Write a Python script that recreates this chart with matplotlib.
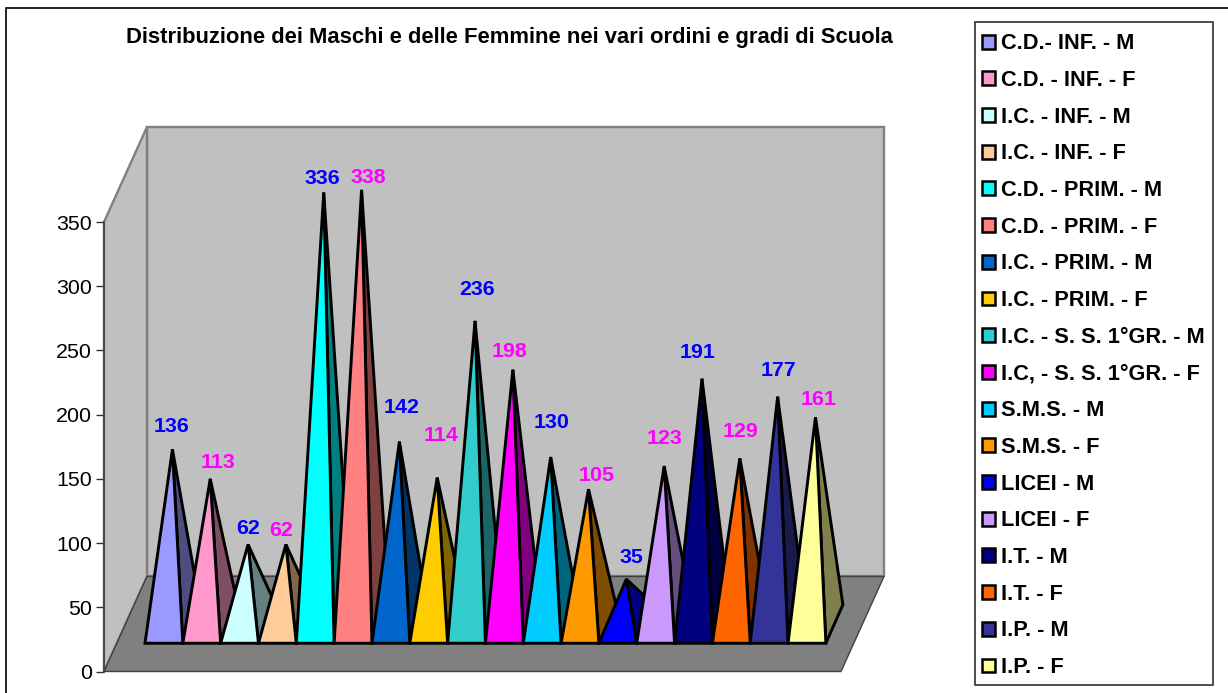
#Distribuzione Maschi / Femmine - pyramids on a fake 3D box

import matplotlib
matplotlib.use('Agg')
import matplotlib.pyplot as plt
from matplotlib.patches import Polygon, Patch, Rectangle

categories = ['C.D.- INF. - M', 'C.D. - INF. - F', 'I.C. - INF. - M', 'I.C. - INF. - F',
              'C.D. - PRIM. - M', 'C.D. - PRIM. - F', 'I.C. - PRIM. - M', 'I.C. - PRIM. - F',
              'I.C. - S. S. 1°GR. - M', 'I.C, - S. S. 1°GR. - F', 'S.M.S. - M', 'S.M.S. - F',
              'LICEI - M', 'LICEI - F', 'I.T. - M', 'I.T. - F', 'I.P. - M', 'I.P. - F']
values = [136, 113, 62, 62, 336, 338, 142, 114, 236, 198, 130, 105, 35, 123, 191, 129, 177, 161]
colors = ['#9999FF', '#FF99CC', '#CCFFFF', '#FFCC99', '#00FFFF', '#FF8080', '#0066CC', '#FFCC00',
          '#33CCCC', '#FF00FF', '#00CCFF', '#FF9900', '#0000FF', '#CC99FF', '#000080', '#FF6600',
          '#333399', '#FFFF99']
yticks = [0, 50, 100, 150, 200, 250, 300, 350]
title = 'Distribuzione dei Maschi e delle Femmine nei vari ordini e gradi di Scuola'

# label nudges from the apex, pixels
labelDx = [-1, 8, 0, -5, -1, 7, 2, 4, 2, -3, 1, 8, 5, 0, -4, 1, 1, 3]
labelDy = [23, 16, 16, 14, 14, 12, 34, 42, 31, 18, 35, 14, 22, 28, 26, 27, 26, 18]

W, H = 1228, 693
plt.rcParams['font.family'] = ['Liberation Sans', 'DejaVu Sans']

fig = plt.figure(figsize=(W / 100, H / 100), dpi=100)
fig.patch.set_facecolor('white')

left, right, bottom, top = 104, 841, 671.5, 222
ax = fig.add_axes([left / W, 1 - bottom / H, (right - left) / W, (bottom - top) / H])
ax.set_xlim(-41 / 37.83, 18.4)
ax.set_ylim(0, 350)
ax.patch.set_visible(False)

# box depth, in axis units
depthX = 43 / 37.83
depthY = 74
xa, xb = ax.get_xlim()
yTop = yticks[-1]

wall = Polygon([(xa + depthX, depthY), (xb + depthX, depthY), (xb + depthX, yTop + depthY), (xa + depthX, yTop + depthY)],
               facecolor='#C0C0C0', edgecolor='#808080', linewidth=1.7, clip_on=False, zorder=1)
side = Polygon([(xa, 0), (xa + depthX, depthY), (xa + depthX, yTop + depthY), (xa, yTop)],
               facecolor='#C0C0C0', edgecolor='#808080', linewidth=1.7, clip_on=False, zorder=1)
floor = Polygon([(xa, 0), (xb, 0), (xb + depthX, depthY), (xa + depthX, depthY)],
                facecolor='#808080', edgecolor='#404040', linewidth=1.0, clip_on=False, zorder=2)
ax.add_patch(wall)
ax.add_patch(side)
ax.add_patch(floor)


def darker(c):
    r, g, b = matplotlib.colors.to_rgb(c)
    return (r * 0.5, g * 0.5, b * 0.5)


# pyramid base: front edge sits above the box front edge, back corner goes up and to the right
baseY = 22
pyrDx = 0.45
pyrDy = 30
for i, v in enumerate(values):
    apex = (i + 0.5 + pyrDx / 2, baseY + pyrDy / 2 + v)
    z = 3 + i * 0.01
    ax.add_patch(Polygon([(i + 1, baseY), (i + 1 + pyrDx, baseY + pyrDy), apex],
                         facecolor=darker(colors[i]), edgecolor='black', linewidth=2.1,
                         joinstyle='miter', clip_on=False, zorder=z))
    ax.add_patch(Polygon([(i, baseY), (i + 1, baseY), apex],
                         facecolor=colors[i], edgecolor='black', linewidth=2.1,
                         joinstyle='miter', clip_on=False, zorder=z + 0.001))
    ax.annotate(str(v), xy=apex, xytext=(labelDx[i], labelDy[i]), textcoords='offset pixels',
                ha='center', va='center', fontsize=15.4, fontweight='bold', annotation_clip=False,
                color='#0000FF' if i % 2 == 0 else '#FF00FF', zorder=10)

ax.set_yticks(yticks)
ax.set_xticks([])
ax.tick_params(axis='y', labelsize=15.4, length=5.8, width=1, color='#333333', pad=3)
for s in ['top', 'right', 'bottom']:
    ax.spines[s].set_visible(False)
ax.spines['left'].set_color('#404040')
ax.spines['left'].set_linewidth(1.2)

fig.text(509 / W, 1 - 38 / H, title, ha='center', va='center', fontsize=15.8, fontweight='bold')

# chart border
fig.add_artist(Rectangle((6 / W, -0.01), 1.1, 1.01 - 8 / H, transform=fig.transFigure,
                         fill=False, edgecolor='black', linewidth=1.2))

# legend box is drawn apart so the padding can differ from the rows
fig.add_artist(Rectangle((975 / W, 1 - 685 / H), 238 / W, 663 / H, transform=fig.transFigure,
                         facecolor='white', edgecolor='#303030', linewidth=1.2))
handles = [Patch(facecolor=c, edgecolor='black', linewidth=1.8) for c in colors]
leg = fig.legend(handles, categories, loc='upper left', bbox_to_anchor=(974 / W, 1 - 25 / H),
                 ncol=1, prop={'weight': 'bold', 'size': 15.7}, frameon=False,
                 borderaxespad=0, borderpad=0.38,
                 labelspacing=0.72, handlelength=0.6, handleheight=0.6, handletextpad=0.25)

plt.savefig('out.png', dpi=100)
